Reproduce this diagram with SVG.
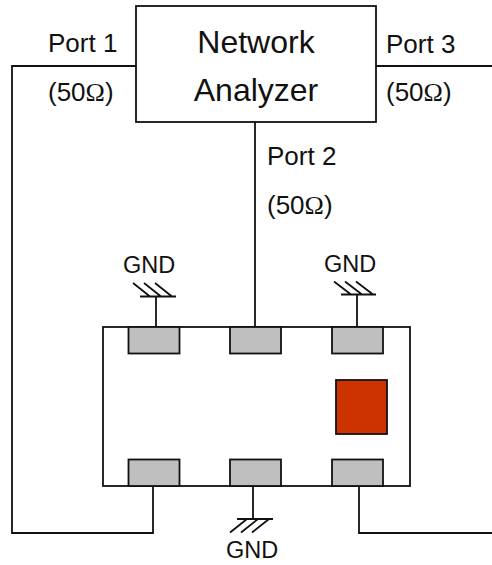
<svg xmlns="http://www.w3.org/2000/svg" width="492" height="565" viewBox="0 0 492 565">
<style>
.l{fill:none;stroke:#111;stroke-width:1.8}
.b{fill:#fff;stroke:#111;stroke-width:1.8}
.p{fill:#bfbfbf;stroke:#111;stroke-width:1.8}
text{font-family:"Liberation Sans",Arial,sans-serif;fill:#111}
.s{font-size:26px}
.o{font-family:"Liberation Serif",serif}
.m{font-size:32px;text-anchor:middle}
.g{font-size:23.500px;text-anchor:middle}
</style>
<g id="connectors">
<path class="l" d="M136 66H12V533H153V486"/>
<path class="l" d="M376 66H492"/>
<path class="l" d="M255 122V327"/>
<path class="l" d="M359 486V533H492"/>
<path class="l" d="M156 327V297"/>
<path class="l" d="M357 327V295"/>
<path class="l" d="M253 486V519"/>
</g>
<g id="analyzer"><rect class="b" x="136" y="6" width="240" height="116"/>
<text class="m" x="256" y="53">Network</text><text class="m" x="256" y="101">Analyzer</text></g>
<g id="port1"><text class="s" x="48" y="52">Port 1</text><text class="s" x="48" y="101">(50<tspan class="o">Ω</tspan>)</text></g>
<g id="port3"><text class="s" x="386" y="52.500">Port 3</text><text class="s" x="386" y="101">(50<tspan class="o">Ω</tspan>)</text></g>
<g id="port2"><text class="s" x="267" y="165">Port 2</text><text class="s" x="267" y="214">(50<tspan class="o">Ω</tspan>)</text></g>
<g id="device"><rect class="b" x="103" y="327" width="307" height="159"/></g>
<g id="pad-tl"><rect class="p" x="128.500" y="327" width="51" height="26.500"/></g>
<g id="pad-tm"><rect class="p" x="230" y="327" width="51" height="26.500"/></g>
<g id="pad-tr"><rect class="p" x="332" y="327" width="51" height="26.500"/></g>
<g id="pad-bl"><rect class="p" x="128.500" y="459.500" width="51" height="26.500"/></g>
<g id="pad-bm"><rect class="p" x="230" y="459.500" width="51" height="26.500"/></g>
<g id="pad-br"><rect class="p" x="332" y="459.500" width="51" height="26.500"/></g>
<g id="chip"><rect x="336" y="380" width="51" height="54" fill="#cc3300" stroke="#111" stroke-width="1.800"/></g>
<g id="gnd-tl"><text class="g" x="149" y="273">GND</text><path class="l" d="M140 296.500H176M133 283L150 296.500M144 283L161 296.500M155 283L172 296.500"/></g>
<g id="gnd-tr"><text class="g" x="350" y="271.500">GND</text><path class="l" d="M341 294.500H376M334 281.500L351 294.500M345 281.500L362 294.500M356 281.500L373 294.500"/></g>
<g id="gnd-b"><text class="g" x="252" y="558">GND</text><path class="l" d="M237 519H273M230 532.500L247 519M241 532.500L258 519M252 532.500L269 519"/></g>
</svg>
